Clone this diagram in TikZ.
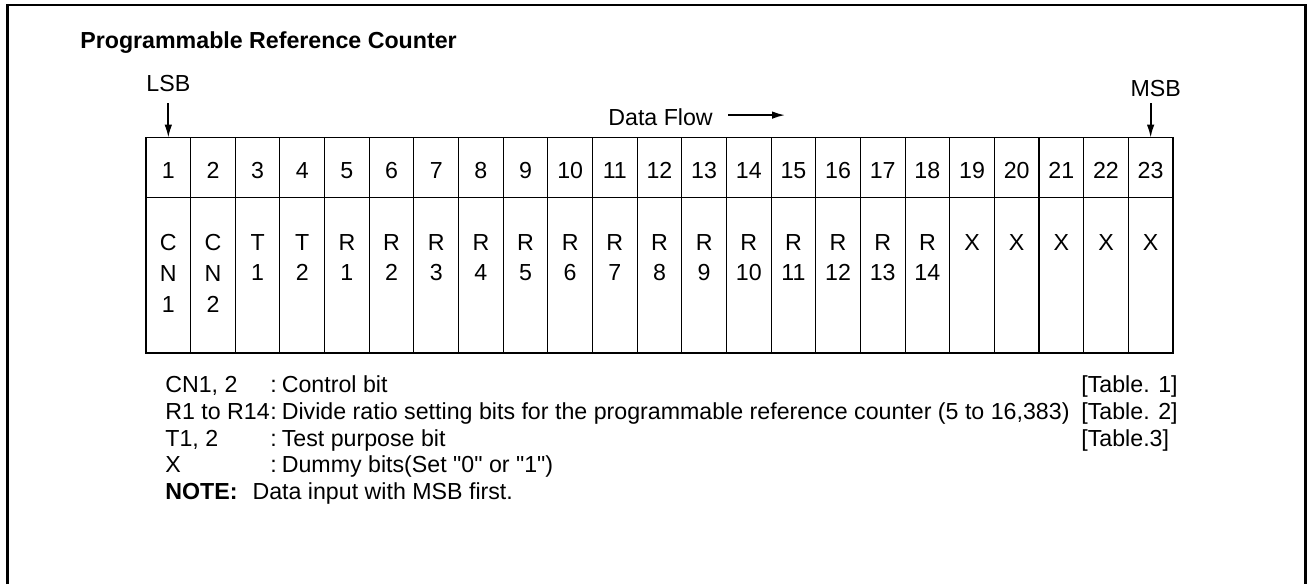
\documentclass[tikz,border=0pt]{standalone}
\usepackage{fontspec}
\setmainfont{Liberation Sans}[Ligatures=TeXOff]
\usetikzlibrary{arrows.meta,positioning}

\begin{document}
\begin{tikzpicture}[
    font=\fontsize{13.2}{17.6}\selectfont,
    frame/.style={line width=1.7pt},
    numcell/.style={draw,line width=0.6pt,minimum width=0.893cm,minimum height=1.2cm,
      inner sep=0pt,outer sep=0pt,text height=0.45cm},
    bodycell/.style={draw,line width=0.6pt,minimum width=0.893cm,minimum height=3.106cm,
      inner sep=0pt,outer sep=0pt},
    bitlab/.style={anchor=north,align=center,inner sep=0pt},
    tag/.style={inner sep=0pt},
    note/.style={anchor=base west,inner sep=0pt},
    bitarrow/.style={line width=1pt,-{Latex[length=2.6mm,width=1.5mm]}}
  ]
  \useasboundingbox (0,0) rectangle (26.16,11.68);
  % outer frame, open at the bottom
  \draw[frame] (0.154,0) |- (26.11,11.58) -- (26.11,0);

  \node[note] (title) at (1.60,10.71) {\bfseries Programmable Reference Counter};

  % bit cells
  \foreach \i in {1,...,23} {
    \node[numcell] (h\i) at ({2.92+(\i-0.5)*0.893},8.326) {\i};
    \node[bodycell,below=0pt of h\i] (b\i) {};
  }

  % bit names
  \foreach \lab [count=\i] in {{C\\N\\1},{C\\N\\2},{T\\1},{T\\2}}
    \node[bitlab] (l\i) at ([yshift=-0.72cm]b\i.north) {\lab};
  \foreach \k in {1,...,14} {
    \pgfmathtruncatemacro{\c}{\k+4}
    \node[bitlab] (l\c) at ([yshift=-0.72cm]b\c.north) {R\\\k};
  }
  \foreach \c in {19,...,23}
    \node[bitlab] (l\c) at ([yshift=-0.72cm]b\c.north) {X};

  % LSB / MSB
  \coordinate (lsbtail) at ([yshift=0.69cm]h1.north);
  \coordinate (msbtail) at ([yshift=0.69cm]h23.north);
  \node[tag,above=0.23cm of lsbtail] (lsb) {LSB};
  \node[tag,above=0.13cm of msbtail,xshift=0.1cm] (msb) {MSB};
  \draw[bitarrow] (lsbtail) -- (h1.north);
  \draw[bitarrow] (msbtail) -- (h23.north);

  % data flow
  \node[note] (flow) at (12.16,9.172) {Data Flow};
  \coordinate (flowtail) at ([xshift=0.3cm,yshift=0.04cm]flow.east);
  \coordinate (flowhead) at ([xshift=1.44cm,yshift=0.04cm]flow.east);
  \draw[bitarrow] (flowtail) -- (flowhead);

  % legend
  \foreach \bitkey/\bitdesc/\tabref [count=\r] in {
      {CN1, 2}/Control bit/{[Table. 1]},
      {R1 to R14}/{Divide ratio setting bits for the programmable reference counter (5 to 16,383)}/{[Table. 2]},
      {T1, 2}/Test purpose bit/{[Table.3]},
      X/{Dummy bits(Set "0" or "1")}/{}} {
    \node[note] (k\r) at (3.30,{3.83-0.535*(\r-1)}) {\bitkey};
    \node[note] (d\r) at (5.40,{3.83-0.535*(\r-1)}) {:\hspace{0.1cm}\bitdesc};
    \node[note] (t\r) at (21.62,{3.83-0.535*(\r-1)}) {\tabref};
  }
  \node[note] (nb) at (3.30,1.69) {\textbf{NOTE:}\hspace{0.3cm}Data input with MSB first.};
\end{tikzpicture}
\end{document}
